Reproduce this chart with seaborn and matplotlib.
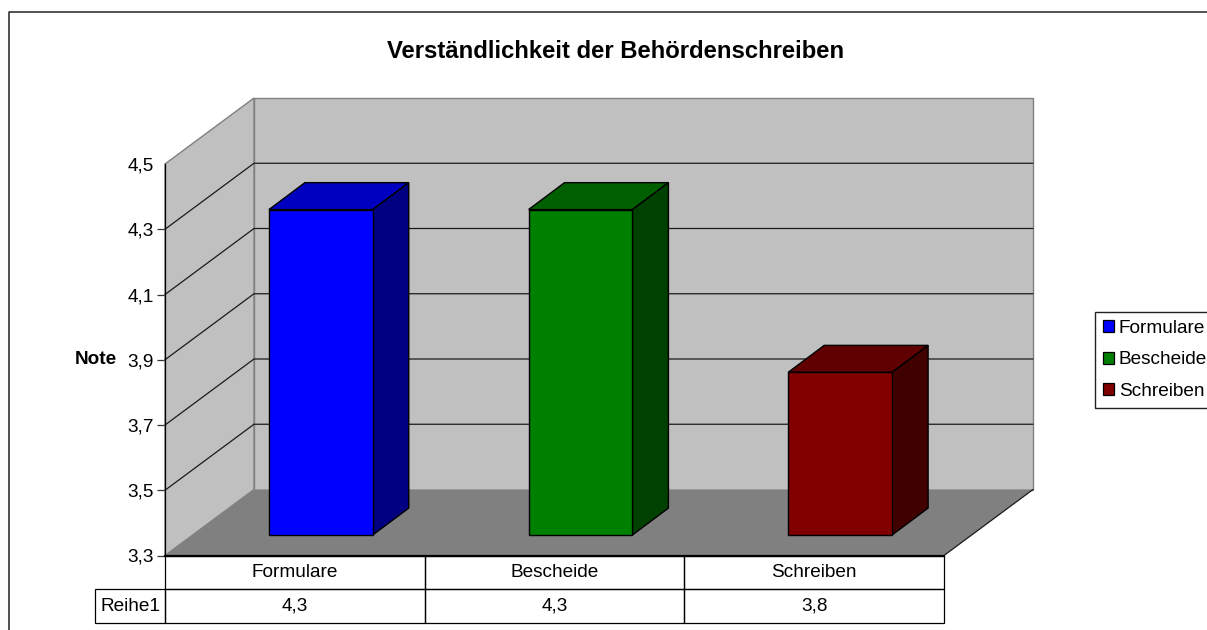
import matplotlib
matplotlib.use("Agg")
import matplotlib.pyplot as plt
from matplotlib.lines import Line2D
from matplotlib.patches import Patch, Polygon
import pandas as pd
import seaborn as sns

categories = ["Formulare", "Bescheide", "Schreiben"]
values = [4.3, 4.3, 3.8]
value_labels = ["4,3", "4,3", "3,8"]
row_label = "Reihe1"
y_ticks = [3.3, 3.5, 3.7, 3.9, 4.1, 4.3, 4.5]
y_tick_labels = ["3,3", "3,5", "3,7", "3,9", "4,1", "4,3", "4,5"]
front_colors = ["#0000FF", "#008000", "#800000"]
top_colors = ["#0000C0", "#006000", "#600000"]
side_colors = ["#000080", "#004000", "#400000"]

W, H = 1207, 630
sns.set_theme(style="white")
plt.rcParams["font.family"] = ["Liberation Sans", "DejaVu Sans"]
plt.rcParams["text.color"] = "black"
FS = 13.7


def px_axes(left, top, right, bottom):
    return fig.add_axes([left / W, 1 - bottom / H, (right - left) / W, (bottom - top) / H])


fig = plt.figure(figsize=(W / 100, H / 100), dpi=100, facecolor="white")

# chart border, right and bottom sides are outside the picture
fig.add_artist(Line2D([8.5 / W, 8.5 / W, 1], [0, 1 - 12 / H, 1 - 12 / H], color="#222222", lw=1.1))
fig.text(616 / W, 1 - 51.5 / H, "Verständlichkeit der Behördenschreiben", ha="center", va="center",
         fontsize=17.2, fontweight="bold", color="black")

# front plane of the 3d box, x units are pixels
ax = px_axes(165, 164, 944, 555.5)
ax.set_xlim(0, 779)
ax.set_ylim(3.3, 4.5)
ax.patch.set_alpha(0)
per_px = 1.2 / 391.5
dx, dy = 89, 66 * per_px

wall_style = dict(edgecolor="#808080", linewidth=1, clip_on=False)
ax.add_patch(Polygon([(dx, 3.3 + dy), (779 + dx, 3.3 + dy), (779 + dx, 4.5 + dy), (dx, 4.5 + dy)],
                     facecolor="#C0C0C0", zorder=1, **wall_style))
ax.add_patch(Polygon([(0, 3.3), (dx, 3.3 + dy), (dx, 4.5 + dy), (0, 4.5)],
                     facecolor="#C0C0C0", zorder=1, **wall_style))
for v in y_ticks[1:-1]:
    ax.plot([0, dx, 779 + dx], [v, v + dy, v + dy], color="#1a1a1a", lw=0.9, clip_on=False, zorder=2)
ax.add_patch(Polygon([(0, 3.3), (779, 3.3), (779 + dx, 3.3 + dy), (dx, 3.3 + dy)],
                     facecolor="#808080", edgecolor="none", clip_on=False, zorder=3))
ax.plot([779, 779 + dx], [3.3, 3.3 + dy], color="#1a1a1a", lw=0.9, clip_on=False, zorder=3)

ax.set_xticks([])
ax.set_yticks(y_ticks, y_tick_labels, fontsize=FS, color="black")
ax.tick_params(axis="y", length=5.5, width=0.9, color="#333333", pad=2.5, left=True)
ax.yaxis.get_major_ticks()[-1].tick1line.set_visible(False)
for name in ["top", "right"]:
    ax.spines[name].set_visible(False)
ax.spines["left"].set_color("black")
ax.spines["left"].set_linewidth(0.9)
ax.spines["left"].set_zorder(4)
ax.spines["bottom"].set_color("black")
ax.spines["bottom"].set_linewidth(1.6)
ax.spines["bottom"].set_zorder(4)
ax.set_ylabel("Note", rotation=0, fontsize=FS, fontweight="bold", color="black", va="center")
ax.yaxis.set_label_coords(-69 / 779, 0.5)

# data table under the plane, the corner cell stays empty
label_w = 69.7 / 848.7
col_w = (1 - label_w) / 3
table = ax.table(cellText=[[""] + categories, [row_label] + value_labels],
                 colWidths=[label_w, col_w, col_w, col_w], cellLoc="center",
                 bbox=[-69.7 / 779, -67.8 / 391.5, 848.7 / 779, 67.8 / 391.5])
table.auto_set_font_size(False)
table.set_fontsize(FS)
for cell in table.get_celld().values():
    cell.set_linewidth(0.9)
    cell.set_edgecolor("black")
    cell.set_facecolor("none")
table[(0, 0)].set_visible(False)

# bars stand 26 px right and 20 px up from the front plane
ax_bars = px_axes(191, 144.5, 970, 535)
df = pd.DataFrame({"Kategorie": categories, "Note": values})
sns.barplot(data=df, x="Kategorie", y="Note", hue="Kategorie", palette=front_colors,
            order=categories, width=0.4, edgecolor="black", linewidth=1, saturation=1,
            legend=False, ax=ax_bars)
ax_bars.set_xlim(-0.5, 2.5)
ax_bars.set_ylim(3.3, 4.5)
ax_bars.axis("off")

bar_dx = 36 / (779 / 3)
bar_dy = 27 * per_px
bars = sorted(ax_bars.patches, key=lambda p: p.get_x())
for bar, top_c, side_c in zip(bars, top_colors, side_colors):
    top = bar.get_height()
    bar.set_y(3.3)
    bar.set_height(top - 3.3)
    bar.set_clip_on(False)
    bar.set_zorder(3)
    x0, x1 = bar.get_x(), bar.get_x() + bar.get_width()
    ax_bars.add_patch(Polygon([(x0, top), (x1, top), (x1 + bar_dx, top + bar_dy), (x0 + bar_dx, top + bar_dy)],
                              facecolor=top_c, edgecolor="black", linewidth=1, clip_on=False, zorder=2))
    ax_bars.add_patch(Polygon([(x1, 3.3), (x1 + bar_dx, 3.3 + bar_dy), (x1 + bar_dx, top + bar_dy), (x1, top)],
                              facecolor=side_c, edgecolor="black", linewidth=1, clip_on=False, zorder=2))

handles = [Patch(facecolor=c, edgecolor="black", linewidth=0.9, label=n) for c, n in zip(front_colors, categories)]
leg = fig.legend(handles=handles, loc="upper left", bbox_to_anchor=(1095 / W, 1 - 312 / H),
                 bbox_transform=fig.transFigure, borderaxespad=0, fontsize=FS, frameon=True,
                 fancybox=False, edgecolor="#222222", framealpha=1, handlelength=0.58,
                 handleheight=0.58, handletextpad=0.25, labelspacing=0.76, borderpad=0.42)
leg.get_frame().set_linewidth(1)

fig.savefig("out.png", dpi=100)
